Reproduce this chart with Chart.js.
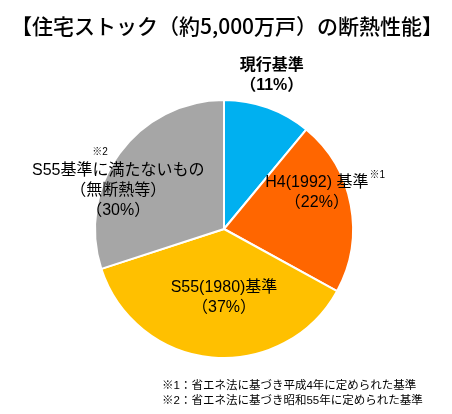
<!DOCTYPE html>
<html lang="ja">
<head>
<meta charset="utf-8">
<title>住宅ストックの断熱性能</title>
<script src="https://cdn.jsdelivr.net/npm/chart.js@4.4.0/dist/chart.umd.min.js"></script>
<style>
    html, body { margin: 0; padding: 0; background: #fff; }
    #wrap { width: 452px; height: 414px; position: relative; }
</style>
</head>
<body>
<div id="wrap"><canvas id="insulationChart"></canvas></div>
<script>
// 区分と割合（%）
const categories = ['現行基準', 'H4(1992) 基準', 'S55(1980)基準', 'S55基準に満たないもの'];
const shares = [11, 22, 37, 30];
const subLabels = ['', '', '', '（無断熱等）'];
const noteMarks = ['', '※1', '', '※2'];
const sliceColors = ['#00B0F0', '#FF6600', '#FFC000', '#A6A6A6'];

const titleText = '【住宅ストック（約5,000万戸）の断熱性能】';
const footnotes = [
    '※1：省エネ法に基づき平成4年に定められた基準',
    '※2：省エネ法に基づき昭和55年に定められた基準'
];

const JP_FONT = '"Noto Sans CJK JP", "Noto Sans", sans-serif';
const LABEL_FONT = '"Liberation Sans", "Noto Sans CJK JP", sans-serif';

// ラベル位置（円の中心からのずれ、半径比）
const labelOffsets = [
    { dx: 0.37, dy: -1.19, bold: true },
    { dx: 0.72, dy: -0.28 },
    { dx: 0.0, dy: 0.53 },
    { dx: -0.82, dy: -0.30 }
];

// タイトル・ラベル・注記を描くプラグイン
const textPlugin = {
    id: 'textPlugin',
    afterDraw(chart) {
        const ctx = chart.ctx;
        const arc = chart.getDatasetMeta(0).data[0];
        const cx = arc.x, cy = arc.y, r = arc.outerRadius;

        ctx.save();
        ctx.fillStyle = '#000';
        ctx.textAlign = 'center';
        ctx.textBaseline = 'middle';

        // タイトル
        ctx.font = '500 21px ' + JP_FONT;
        ctx.fillText(titleText, 227, 26);

        // 各区分のラベル
        const lineH = 20;
        categories.forEach((name, i) => {
            const off = labelOffsets[i];
            const lines = [name];
            if (subLabels[i]) lines.push(subLabels[i]);
            lines.push('（' + shares[i] + '%）');
            const x = cx + off.dx * r;
            const y0 = cy + off.dy * r - (lines.length - 1) * lineH / 2;
            ctx.font = (off.bold ? 'bold ' : '') + '16px ' + LABEL_FONT;
            lines.forEach((t, k) => ctx.fillText(t, x, y0 + k * lineH));

            if (noteMarks[i]) {
                const w = ctx.measureText(name).width;
                ctx.font = '10px ' + LABEL_FONT;
                if (i === 1) {
                    ctx.textAlign = 'left';
                    ctx.fillText(noteMarks[i], x + w / 2 + 1, y0 - 8);
                } else {
                    ctx.textAlign = 'center';
                    ctx.fillText(noteMarks[i], x - w / 2 + 68, y0 - 18);
                }
                ctx.textAlign = 'center';
            }
        });

        // 注記
        ctx.textAlign = 'left';
        ctx.font = '11.5px ' + LABEL_FONT;
        footnotes.forEach((t, k) => ctx.fillText(t, 162, 386 + k * 15));
        ctx.restore();
    }
};

new Chart(document.getElementById('insulationChart'), {
    type: 'pie',
    data: {
        labels: categories,
        datasets: [{
            data: shares,
            backgroundColor: sliceColors,
            borderColor: '#ffffff',
            borderWidth: 2
        }]
    },
    options: {
        responsive: true,
        maintainAspectRatio: false,
        animation: false,
        events: [],
        layout: {
            padding: { left: 94, right: 98, top: 99, bottom: 55 }
        },
        plugins: {
            legend: { display: false },
            tooltip: { enabled: false }
        }
    },
    plugins: [textPlugin]
});
</script>
</body>
</html>
